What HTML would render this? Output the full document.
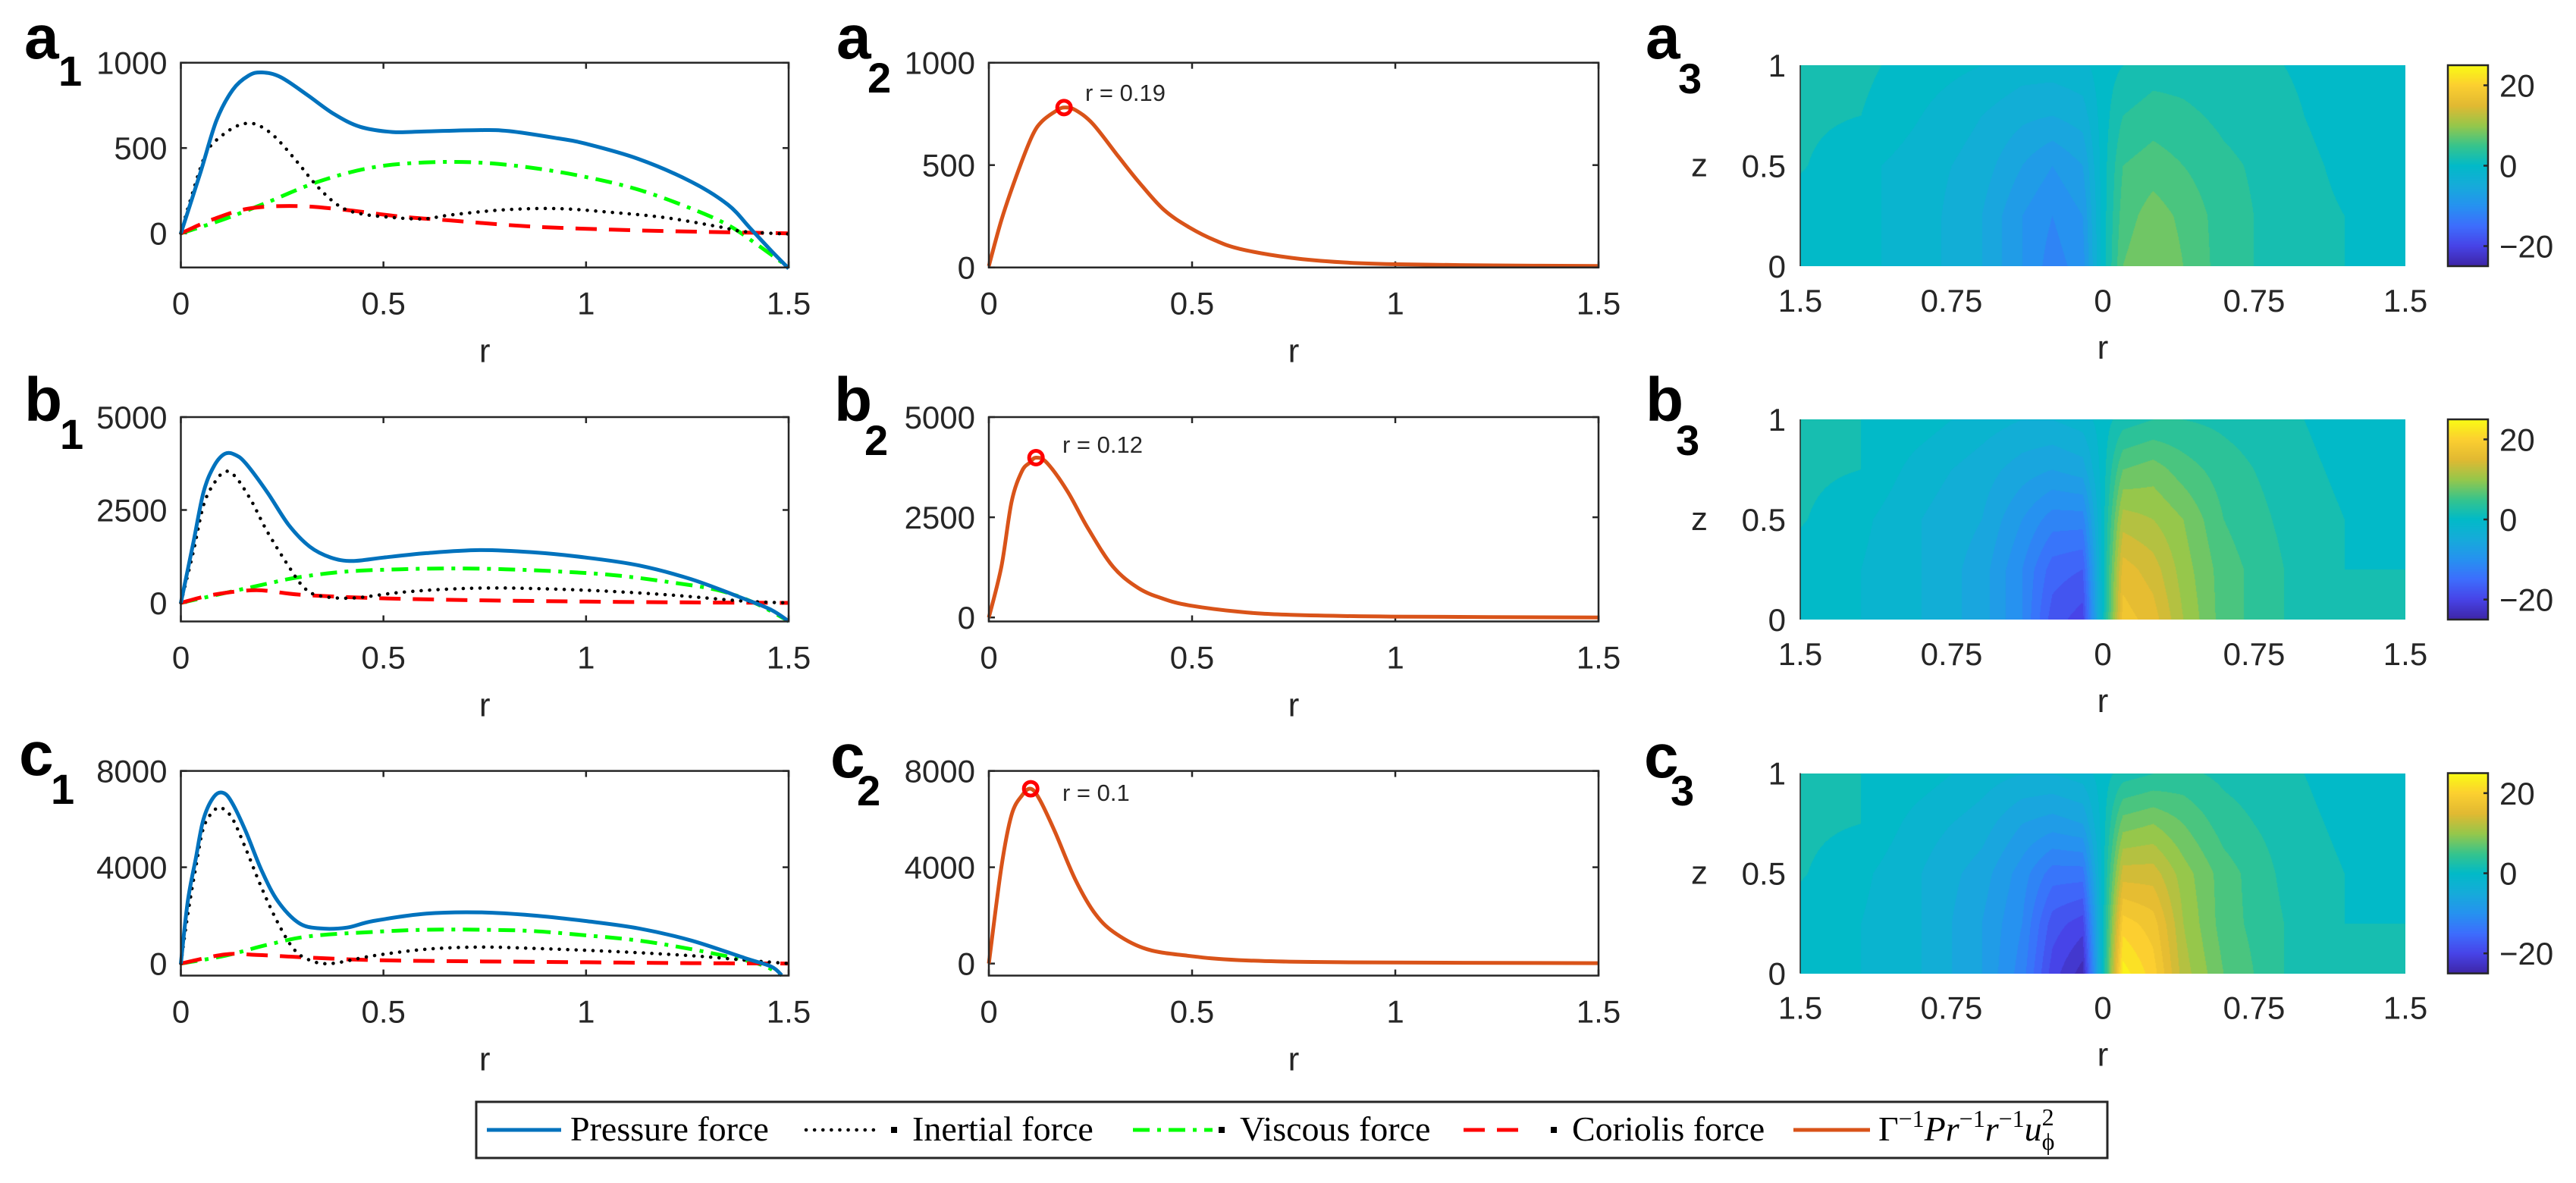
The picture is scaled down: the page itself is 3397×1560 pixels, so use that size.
<!DOCTYPE html>
<html><head><meta charset="utf-8"><style>
html,body{margin:0;padding:0;background:#fff;}
#wrap{position:relative;width:3397px;height:1560px;overflow:hidden;background:#fff;}
canvas{position:absolute;}
svg{position:absolute;left:0;top:0;}
text{font-family:"Liberation Sans",sans-serif;fill:#262626;}
.lbl{font-weight:bold;fill:#000;}
.leg{font-family:"Liberation Serif",serif;fill:#000;font-size:46px;}
</style></head><body>
<div id="wrap">
<canvas id="h0"></canvas>
<canvas id="h1"></canvas>
<canvas id="h2"></canvas>
<canvas id="cb0"></canvas>
<canvas id="cb1"></canvas>
<canvas id="cb2"></canvas>
<svg id="svg" width="3397" height="1560" xmlns="http://www.w3.org/2000/svg"></svg>
</div>
<script>
// ---------- data: force balance panels (column 1) ----------
const a1PressR=[0,.049,.088,.128,.167,.2,.246,.312,.378,.443,.522,.6,.733,.81,.93,.996,1.128,1.26,1.35,1.404,1.457,1.5];
const a1PressV=[0,362,662,841,924,943,916,811,699,624,594,597,605,599,557,527,437,302,168,33,-102,-206];
const a1InerR=[0,.022,.062,.101,.141,.167,.193,.233,.286,.338,.391,.443,.522,.6,.667,.799,.93,1.062,1.193,1.325,1.39,1.5];
const a1InerV=[0,183,467,572,632,644,632,564,422,272,160,115,93,85,108,138,145,123,93,40,10,-4];
const a1ViscR=[0,.101,.207,.338,.47,.6,.733,.864,.996,1.128,1.26,1.351,1.417,1.5];
const a1ViscV=[0,78,175,302,385,415,415,385,332,257,145,48,-57,-199];
const a1CorR=[0,.075,.167,.286,.404,.536,.667,.864,1.062,1.26,1.5];
const a1CorV=[0,78,145,160,138,100,75,40,22,10,0];

const b1PressR=[0,.03,.056,.082,.109,.135,.161,.213,.266,.318,.37,.423,.501,.606,.737,.868,.999,1.13,1.26,1.391,1.457,1.5];
const b1PressV=[0,1573,2981,3685,4014,3979,3744,2981,2101,1514,1221,1127,1221,1338,1420,1361,1221,1009,634,106,-188,-493];
const b1InerR=[0,.03,.056,.082,.109,.135,.174,.213,.266,.305,.344,.423,.541,.671,.802,.999,1.195,1.391,1.5];
const b1InerV=[0,1338,2629,3216,3533,3392,2746,1925,986,399,188,129,282,376,399,340,223,47,0];
const b1ViscR=[0,.082,.213,.292,.41,.541,.671,.802,.933,1.064,1.195,1.326,1.418,1.5];
const b1ViscV=[0,200,516,692,845,904,927,904,845,751,575,340,-12,-493];
const b1CorR=[0,.082,.187,.292,.475,.737,.999,1.26,1.5];
const b1CorV=[0,223,340,223,129,70,35,12,0];

const c1PressR=[0,.017,.037,.056,.082,.106,.128,.161,.2,.24,.292,.344,.41,.475,.606,.737,.868,.999,1.13,1.26,1.391,1.457,1.483];
const c1PressV=[0,2577,4378,6000,6937,7081,6631,5459,3838,2577,1676,1459,1495,1766,2072,2126,2000,1766,1459,955,234,-126,-486];
const c1InerR=[0,.017,.037,.056,.082,.102,.128,.161,.2,.24,.279,.318,.37,.475,.606,.737,.868,1.064,1.26,1.391,1.5];
const c1InerV=[0,2036,4018,5640,6360,6450,6000,4739,3117,1676,595,144,0,324,595,685,631,505,324,144,0];
const c1ViscR=[0,.109,.213,.318,.475,.606,.737,.868,.999,1.13,1.26,1.391,1.444,1.483];
const c1ViscV=[0,324,775,1135,1315,1405,1405,1351,1171,955,595,144,-126,-486];
const c1CorR=[0,.109,.187,.292,.475,.737,.999,1.26,1.5];
const c1CorV=[0,378,360,270,144,90,54,18,0];

// ---------- data: centrifugal term (column 2) ----------
const a2R=[0,.031,.069,.106,.131,.169,.187,.213,.256,.319,.369,.431,.494,.556,.619,.744,.869,.994,1.244,1.5];
const a2V=[7,232,454,640,714,769,781,769,701,541,417,281,195,133,90,47,25,16,10,7];
const b2R=[0,.031,.056,.081,.1,.116,.143,.193,.243,.305,.368,.43,.493,.617,.742,.991,1.5];
const b2V=[0,1272,2888,3642,3858,3987,3858,3157,2241,1272,733,463,302,140,65,22,0];
const c2R=[0,.031,.056,.082,.103,.125,.163,.213,.263,.314,.389,.489,.615,.866,1.5];
const c2V=[0,4018,6180,6991,7261,6811,5459,3477,2036,1225,595,324,144,54,18];
const peakR=[0.185,0.116,0.103];
const peakV=[781,3987,7261];
const peakLabels=["r = 0.19","r = 0.12","r = 0.1"];

// ---------- data: heatmaps (column 3) ----------
const heatR=[-1.5,-1.2,-0.9,-0.6,-0.4,-0.25,-0.1,0,0.1,0.25,0.4,0.6,0.9,1.2,1.5];
const heatZ=[0,0.25,0.5,0.75,1];
const heatA=[
 [0,-0.5,-2,-5,-9,-12,-10,0,7,9,7,4,2,1,0.5],
 [0,-0.5,-2,-5,-9,-11,-9,0,6,8,6.5,4,2,1,0.3],
 [1.2,-0.5,-2,-4,-7,-9,-7,0,5,6,5,3.5,2,0.5,0],
 [1.5,1,-1,-3,-4.5,-5,-4,0,3,4,3.5,2.5,1.5,0,0],
 [1.5,1.5,0,-1,-2,-2,-1.5,0,1,2,2,1.5,1,0,0]];
const heatB=[
 [0,-1,-3,-6,-11,-18,-20,0,18,16,11,6,3,1,1],
 [0,-1,-3,-6,-11,-16,-17,0,16,14,10,6,3,1,1],
 [1.2,-0.5,-3,-5,-9,-12,-12,0,12,11,9,5,2.5,1,0],
 [1.5,1,-2,-4,-6,-7,-6,0,7,8,6,4,2,0.5,0],
 [1.5,1,0,-2,-3,-3,-2,0,2,3,3,2.5,1.5,0,0]];
const heatC=[
 [0,-1,-3,-7,-12,-20,-24,0,24,20,12,7,3,1,1],
 [0,-1,-3,-7,-11,-18,-20,0,20,18,11,6,3,1,1],
 [1.2,-0.5,-3,-6,-10,-14,-14,0,14,14,10,6,2.5,1,0],
 [1.5,1,-2,-4,-7,-8,-7,0,8,9,7,4,2,0.5,0],
 [1.5,1,0,-2,-3,-3,-2,0,2,3,3.5,2.5,1.5,0,0]];
const heatXTicks=[-1.5,-0.75,0,0.75,1.5];
const heatXTickLabels=["1.5","0.75","0","0.75","1.5"];
const heatZTicks=[0,0.5,1];
const cbTicks=[-20,0,20];
const rTicks=[0,0.5,1,1.5];
const rTickLabels=["0","0.5","1","1.5"];

const NS="http://www.w3.org/2000/svg";
const svg=document.getElementById('svg');
function mk(tag,attrs,parent){const e=document.createElementNS(NS,tag);for(const k in attrs)e.setAttribute(k,attrs[k]);(parent||svg).appendChild(e);return e;}

const rowsL=[[82.7,352.7],[550,819.5],[1016.6,1286.5]];
const rowsH=[[86,351],[553,817],[1019.5,1283.6]];
const col1=[238.5,1040], col2=[1304,2108], col3=[2374,3172], cbX=[3228,3281];

function scale(d0,d1,p0,p1){return v=>p0+(v-d0)/(d1-d0)*(p1-p0);}
function smoothPath(xs,ys){
  let d='M'+xs[0].toFixed(1)+','+ys[0].toFixed(1);
  for(let i=0;i<xs.length-1;i++){
    const x0=xs[Math.max(i-1,0)],y0=ys[Math.max(i-1,0)],x1=xs[i],y1=ys[i],x2=xs[i+1],y2=ys[i+1],x3=xs[Math.min(i+2,xs.length-1)],y3=ys[Math.min(i+2,xs.length-1)];
    const c1x=x1+(x2-x0)/6,c1y=y1+(y2-y0)/6,c2x=x2-(x3-x1)/6,c2y=y2-(y3-y1)/6;
    d+=' C'+c1x.toFixed(1)+','+c1y.toFixed(1)+' '+c2x.toFixed(1)+','+c2y.toFixed(1)+' '+x2.toFixed(1)+','+y2.toFixed(1);
  }
  return d;
}
function axesFrame(name,x0,x1,y0,y1,g){
  const fr=mk('rect',{x:x0,y:y0,width:x1-x0,height:y1-y0,fill:'none',stroke:'#262626','stroke-width':2.5},g);
  
  
}
function lineAxes(name,cx,row,ylim,yticks,ylabels){
  const g=mk('g',{});
  
  
  const X=scale(0,1.5,cx[0],cx[1]),Y=scale(ylim[0],ylim[1],row[1],row[0]);
  rTicks.forEach((t,i)=>{
    const x=X(t);
    mk('line',{x1:x,x2:x,y1:row[1],y2:row[1]-8,stroke:'#262626','stroke-width':2.5},g);
    mk('line',{x1:x,x2:x,y1:row[0],y2:row[0]+8,stroke:'#262626','stroke-width':2.5},g);
    const t2=mk('text',{x:x,y:row[1]+62,'font-size':42,'text-anchor':'middle'},g);t2.textContent=rTickLabels[i];
    
    
  });
  yticks.forEach((t,i)=>{
    const y=Y(t);
    mk('line',{x1:cx[0],x2:cx[0]+8,y1:y,y2:y,stroke:'#262626','stroke-width':2.5},g);
    mk('line',{x1:cx[1],x2:cx[1]-8,y1:y,y2:y,stroke:'#262626','stroke-width':2.5},g);
    const t2=mk('text',{x:cx[0]-18,y:y+15,'font-size':42,'text-anchor':'end'},g);t2.textContent=ylabels[i];
    
    
  });
  const xl=mk('text',{x:(cx[0]+cx[1])/2,y:row[1]+125,'font-size':44,'text-anchor':'middle'},g);xl.textContent='r';
  
  
  return {g,X,Y};
}
function series(ax,rs,vs,style,name){
  const xs=rs.map(ax.X),ys=vs.map(ax.Y);
  const p=mk('path',Object.assign({d:smoothPath(xs,ys),fill:'none'},style),ax.g);
  
  
}
const S_P={stroke:'#0072BD','stroke-width':5};
const S_I={stroke:'#000','stroke-width':4.5,'stroke-dasharray':'0.1 11','stroke-linecap':'round'};
const S_V={stroke:'#00FF00','stroke-width':5,'stroke-dasharray':'22 10 5 10'};
const S_C={stroke:'#FF0000','stroke-width':5,'stroke-dasharray':'28 16'};
const S_O={stroke:'#D95319','stroke-width':5};

const col1Cfg=[
 {n:'a1',ylim:[-200,1000],yt:[0,500,1000],yl:['0','500','1000'],d:[[a1PressR,a1PressV],[a1InerR,a1InerV],[a1ViscR,a1ViscV],[a1CorR,a1CorV]]},
 {n:'b1',ylim:[-500,5000],yt:[0,2500,5000],yl:['0','2500','5000'],d:[[b1PressR,b1PressV],[b1InerR,b1InerV],[b1ViscR,b1ViscV],[b1CorR,b1CorV]]},
 {n:'c1',ylim:[-500,8000],yt:[0,4000,8000],yl:['0','4000','8000'],d:[[c1PressR,c1PressV],[c1InerR,c1InerV],[c1ViscR,c1ViscV],[c1CorR,c1CorV]]}];
const col2Cfg=[
 {n:'a2',ylim:[0,1000],yt:[0,500,1000],yl:['0','500','1000'],d:[a2R,a2V],tx:1431,ty:133},
 {n:'b2',ylim:[-100,5000],yt:[0,2500,5000],yl:['0','2500','5000'],d:[b2R,b2V],tx:1401,ty:597},
 {n:'c2',ylim:[-500,8000],yt:[0,4000,8000],yl:['0','4000','8000'],d:[c2R,c2V],tx:1401,ty:1056}];
const styles=[S_P,S_I,S_V,S_C],snames=['pressure-force','inertial-force','viscous-force','coriolis-force'];
col1Cfg.forEach((c,i)=>{
  const ax=lineAxes('panel-'+c.n,col1,rowsL[i],c.ylim,c.yt,c.yl);
  [2,3,1,0].forEach(k=>series(ax,c.d[k][0],c.d[k][1],styles[k],c.n+'-'+snames[k]+'-line'));
  axesFrame('panel-'+c.n,col1[0],col1[1],rowsL[i][0],rowsL[i][1],ax.g);
});
col2Cfg.forEach((c,i)=>{
  const ax=lineAxes('panel-'+c.n,col2,rowsL[i],c.ylim,c.yt,c.yl);
  series(ax,c.d[0],c.d[1],S_O,c.n+'-centrifugal-line');
  const m=mk('circle',{cx:ax.X(peakR[i]),cy:ax.Y(peakV[i]),r:9,fill:'none',stroke:'#FF0000','stroke-width':5},ax.g);
  
  
  const t=mk('text',{x:c.tx,y:c.ty,'font-size':31},ax.g);t.textContent=peakLabels[i];
  
  
  axesFrame('panel-'+c.n,col2[0],col2[1],rowsL[i][0],rowsL[i][1],ax.g);
});

// ---------- parula-like colormap ----------
const cmap=[[62,38,168],[71,68,232],[61,110,253],[38,146,240],[22,171,218],[2,186,200],[55,196,140],[150,199,75],[225,185,50],[252,207,48],[249,251,21]];
function col(f){f=Math.max(0,Math.min(1,f))*10;const i=Math.min(9,Math.floor(f)),t=f-i;return cmap[i].map((c,k)=>Math.round(c+(cmap[i+1][k]-c)*t));}
function interp(grid,r,z){
  let i=0;while(i<heatR.length-2&&r>heatR[i+1])i++;
  let j=0;while(j<heatZ.length-2&&z>heatZ[j+1])j++;
  const tx=(r-heatR[i])/(heatR[i+1]-heatR[i]),tz=(z-heatZ[j])/(heatZ[j+1]-heatZ[j]);
  const a=grid[j][i]*(1-tx)+grid[j][i+1]*tx,b=grid[j+1][i]*(1-tx)+grid[j+1][i+1]*tx;
  return a*(1-tz)+b*tz;
}
const heats=[heatA,heatB,heatC],hn=['a3','b3','c3'];
heats.forEach((grid,p)=>{
  const row=rowsH[p];
  const cv=document.getElementById('h'+p);
  const W=Math.round(col3[1]-col3[0]),H=Math.round(row[1]-row[0]);
  cv.width=W;cv.height=H;cv.style.left=col3[0]+'px';cv.style.top=row[0]+'px';
  const ctx=cv.getContext('2d');const img=ctx.createImageData(W,H);
  for(let y=0;y<H;y++){const z=1-y/(H-1);
    for(let x=0;x<W;x++){const r=-1.5+3*x/(W-1);
      let v=interp(grid,r,z);v=Math.round(v/2)*2;
      const c=col((v+25)/50);const o=(y*W+x)*4;img.data[o]=c[0];img.data[o+1]=c[1];img.data[o+2]=c[2];img.data[o+3]=255;}}
  ctx.putImageData(img,0,0);
  const cb=document.getElementById('cb'+p);
  const cw=Math.round(cbX[1]-cbX[0]);cb.width=cw;cb.height=H;cb.style.left=cbX[0]+'px';cb.style.top=row[0]+'px';
  const c2=cb.getContext('2d');
  for(let y=0;y<H;y++){const c=col(1-y/(H-1));c2.fillStyle='rgb('+c.join(',')+')';c2.fillRect(0,y,cw,1);}
  const g=mk('g',{});
  
  
  const X=scale(-1.5,1.5,col3[0],col3[1]),Z=scale(0,1,row[1],row[0]),C=scale(-25,25,row[1],row[0]);
  mk('line',{x1:col3[0],x2:col3[0],y1:row[0],y2:row[1],stroke:'#262626','stroke-width':1.5},g);
  heatXTicks.forEach((t,i)=>{const e=mk('text',{x:X(t),y:row[1]+60,'font-size':42,'text-anchor':'middle'},g);e.textContent=heatXTickLabels[i];
    
    });
  heatZTicks.forEach(t=>{const e=mk('text',{x:col3[0]-19,y:Z(t)+15,'font-size':42,'text-anchor':'end'},g);e.textContent=String(t);
    
    });
  const xl=mk('text',{x:(col3[0]+col3[1])/2,y:row[1]+122,'font-size':44,'text-anchor':'middle'},g);xl.textContent='r';
  
  
  const zl=mk('text',{x:2241,y:(row[0]+row[1])/2+14,'font-size':44,'text-anchor':'middle'},g);zl.textContent='z';
  
  
  mk('rect',{x:cbX[0],y:row[0],width:cbX[1]-cbX[0],height:row[1]-row[0],fill:'none',stroke:'#262626','stroke-width':2.5},g);
  cbTicks.forEach(t=>{const y=C(t);mk('line',{x1:cbX[1],x2:cbX[1]-6,y1:y,y2:y,stroke:'#262626','stroke-width':2.5},g);
    const e=mk('text',{x:3296,y:y+15,'font-size':42},g);e.textContent=t<0?'\u2212'+(-t):String(t);
    
    });
});

// ---------- panel letters ----------
const letters=[['a','1',32,77,77,113],['a','2',1103,77,1144,122],['a','3',2170,77,2213,123],
 ['b','1',32,555,79,592],['b','2',1100,555,1140,600],['b','3',2170,555,2210,600],
 ['c','1',25,1022,67,1060],['c','2',1095,1025,1130,1062],['c','3',2168,1025,2203,1062]];
letters.forEach(l=>{
  const t=mk('text',{x:l[2],y:l[3],'font-size':82,class:'lbl'});t.textContent=l[0];
  
  
  const s=mk('text',{x:l[4],y:l[5],'font-size':56,class:'lbl'});s.textContent=l[1];
  
  
});

// ---------- legend ----------
const lg=mk('g',{});


mk('rect',{x:628,y:1453,width:2151,height:74,fill:'#fff',stroke:'#262626','stroke-width':3},lg);
const legItems=[[642,740,S_P,'Pressure force',752,false],[1063,1161,S_I,'Inertial force',1203,true],[1494,1599,S_V,'Viscous force',1635,true],[1930,2017,S_C,'Coriolis force',2073,true],[2365,2466,S_O,null,2477,false]];
legItems.forEach((it,i)=>{
  const e=mk('g',{},lg);
  
  
  mk('line',Object.assign({x1:it[0],x2:it[1],y1:1490,y2:1490},it[2]),e);
  if(it[5])mk('rect',{x:it[4]-28,y:1486,width:8,height:8,fill:'#000'},e);
  const t=mk('text',{x:it[4],y:1504,class:'leg'},e);
  if(it[3])t.textContent=it[3];
  else{
    const parts=[['\u0393',0,''],['\u22121',-18,'sup'],['Pr',0,'it'],['\u22121',-18,'sup'],['r',0,'it'],['\u22121',-18,'sup'],['u',0,'it'],['2',-20,'sup2'],['\u03D5',12,'sub']];
    let dy=0;
    parts.forEach(pp=>{
      const s=document.createElementNS(NS,'tspan');
      s.textContent=pp[0];
      const ndy=pp[1];s.setAttribute('dy',ndy-dy);dy=ndy;
      if(pp[2]==='it')s.setAttribute('font-style','italic');
      if(pp[2]==='sup'||pp[2]==='sup2'||pp[2]==='sub')s.setAttribute('font-size','32');
      if(pp[2]==='sub')s.setAttribute('dx','-16');
      t.appendChild(s);
    });
  }
});
</script>
</body></html>
